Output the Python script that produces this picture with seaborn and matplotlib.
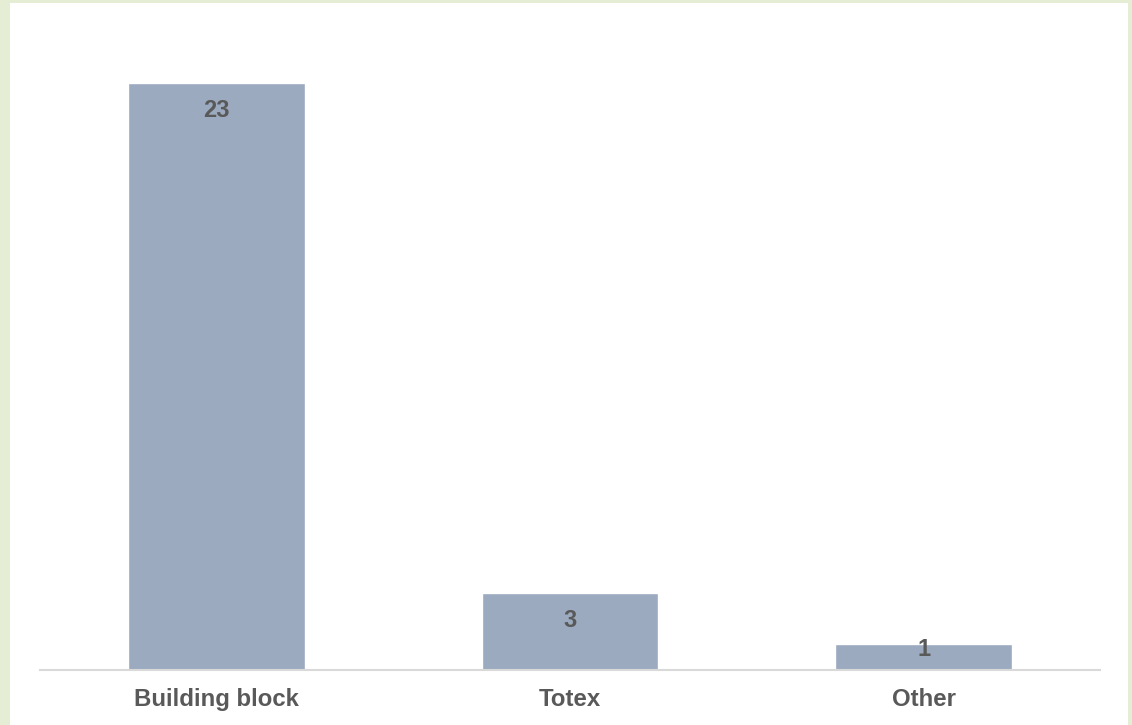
import pandas as pd
import matplotlib.pyplot as plt
import seaborn as sns
from matplotlib.patches import Rectangle

# 데이터
categories = ['Building block', 'Totex', 'Other']
counts = [23, 3, 1]

df = pd.DataFrame({'category': categories, 'count': counts})

sns.set_style('white')
plt.rcParams['font.family'] = ['Liberation Sans', 'DejaVu Sans']

fig = plt.figure(figsize=(11.32, 7.25), dpi=100)
fig.patch.set_facecolor('#E5EDD5')
# white panel inside the green frame
fig.patches.append(Rectangle((10 / 1132, 0), 1118 / 1132, 722 / 725,
                             transform=fig.transFigure, facecolor='white',
                             edgecolor='none', zorder=-10))

ax = fig.add_axes([39.5 / 1132, 55 / 725, 1061 / 1132, 630 / 725])
ax.set_facecolor('none')

sns.barplot(data=df, x='category', y='count', color='#9BAABF',
            saturation=1, width=0.5, ax=ax)

ax.set_xlim(-0.5, 2.5)
ax.set_ylim(0, 630 / 25.52)

# data labels inside the bar top
px_per_unit = 630 / ax.get_ylim()[1]
for i, v in enumerate(counts):
    h_px = v * px_per_unit
    off = -min(27, max(0, h_px - 21))
    ax.annotate(str(v), (i, v), xytext=(0, off * 0.72), textcoords='offset points',
                ha='center', va='center', fontsize=17, fontweight='bold',
                color='#595959')

for s in ['top', 'right', 'left']:
    ax.spines[s].set_visible(False)
ax.spines['bottom'].set_color('#D9D9D9')
ax.spines['bottom'].set_linewidth(1.5)

ax.set_yticks([])
ax.set_xlabel('')
ax.set_ylabel('')
ax.tick_params(axis='x', length=0, pad=13)
for lbl in ax.get_xticklabels():
    lbl.set_fontsize(17.3)
    lbl.set_fontweight('bold')
    lbl.set_color('#595959')

fig.savefig('out.png', dpi=100, facecolor=fig.get_facecolor())
